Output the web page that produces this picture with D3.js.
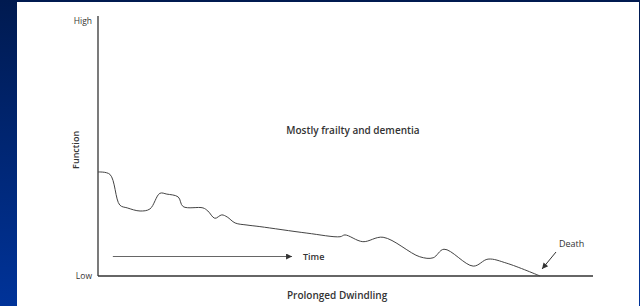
<!DOCTYPE html>
<html><head><meta charset="utf-8">
<script src="https://cdn.jsdelivr.net/npm/d3@7"></script>
<style>html,body{margin:0;padding:0;background:#001a50;overflow:hidden}</style>
</head><body>
<script>
// Trajectory data: time (0-100) vs function (0-100)
const time = [0, 2.4, 4.4, 5.9, 8.5, 10.5, 12.5, 13.9, 16.2, 17.2, 21.2, 22.2, 23.6, 25, 26.1, 27.7, 30.1, 32.7, 42.2, 48.9, 49.9, 53.5, 57.6, 65, 67.7, 69.9, 75.8, 78.8, 82.6, 89.3];
const functionLevel = [40, 39.1, 27.3, 26.2, 25, 25.8, 31.8, 31.5, 30.4, 26.7, 26.2, 25, 22.2, 23.5, 22.7, 20.4, 19.6, 19, 16.5, 15.1, 15.8, 13.2, 14.9, 7.4, 7, 10.3, 3.8, 6.5, 4.9, 0];
const yTickLabels = ["Low", "High"];
const yTickValues = [0, 100];
const title = "Mostly frailty and dementia";
const xTitle = "Prolonged Dwindling";
const yTitle = "Function";
const timeArrow = [3, 39.2]; // time arrow extent in time units
const timeArrowLevel = 7.5;
const deathTime = 89.3;

const W = 640, H = 306;
const svg = d3.select("body").append("svg").attr("width", W).attr("height", H);
const defs = svg.append("defs");
const g = defs.append("linearGradient").attr("id","bg").attr("x1",0).attr("y1",0).attr("x2",0).attr("y2",1);
g.append("stop").attr("offset","0%").attr("stop-color","#001a50");
g.append("stop").attr("offset","100%").attr("stop-color","#003399");
svg.append("rect").attr("width",W).attr("height",H).attr("fill","url(#bg)");
svg.append("rect").attr("x",17).attr("y",2).attr("width",622).attr("height",H-2).attr("fill","#ffffff");

const x = d3.scaleLinear().domain([0,100]).range([98,593]);
const y = d3.scaleLinear().domain([0,100]).range([276,16]);
const font = "'Open Sans', 'DejaVu Sans', sans-serif";
const ink = "#333";

// axes lines
svg.append("line").attr("x1",x(0)).attr("x2",x(0)).attr("y1",y(0)).attr("y2",y(100)).attr("stroke",ink).attr("stroke-width",1.3);
svg.append("line").attr("x1",x(0)).attr("x2",x(100)).attr("y1",y(0)).attr("y2",y(0)).attr("stroke",ink).attr("stroke-width",1.3);

// y tick labels
svg.selectAll("text.yt").data(yTickValues).enter().append("text")
  .attr("x",x(0)-6).attr("y",(d,i)=> i===0 ? y(d)+3 : y(d)+8).attr("text-anchor","end")
  .attr("font-family",font).attr("font-size",8.5).attr("font-weight",500).attr("fill",ink)
  .text((d,i)=>yTickLabels[i]);

// y title
svg.append("text").attr("transform",`translate(79,${y(48.5)}) rotate(-90)`)
  .attr("text-anchor","middle").attr("font-family",font).attr("font-size",9).attr("font-weight",600).attr("fill",ink).text(yTitle);

// x title
svg.append("text").attr("x",x(48.3)).attr("y",299).attr("text-anchor","middle")
  .attr("font-family",font).attr("font-size",10).attr("font-weight",600).attr("fill",ink).text(xTitle);

// chart title
svg.append("text").attr("x",x(51.5)).attr("y",134).attr("text-anchor","middle")
  .attr("font-family",font).attr("font-size",10).attr("font-weight",600).attr("fill",ink).text(title);

// curve
const pts = time.map((t,i)=>[t, functionLevel[i]]);
svg.append("path").datum(pts)
  .attr("d", d3.line().x(d=>x(d[0])).y(d=>y(d[1])).curve(d3.curveCatmullRom.alpha(0.5)))
  .attr("fill","none").attr("stroke","#444").attr("stroke-width",1);

// time arrow
defs.append("marker").attr("id","ah").attr("viewBox","0 0 10 10").attr("refX",10).attr("refY",5)
  .attr("markerWidth",8).attr("markerHeight",6).attr("markerUnits","userSpaceOnUse").attr("orient","auto")
  .append("path").attr("d","M0,0L10,5L0,10Z").attr("fill","#333");
svg.append("line").attr("x1",x(timeArrow[0])).attr("x2",x(timeArrow[1])).attr("y1",y(timeArrowLevel)).attr("y2",y(timeArrowLevel))
  .attr("stroke","#666").attr("stroke-width",1.2).attr("marker-end","url(#ah)");
svg.append("text").attr("x",303).attr("y",y(timeArrowLevel)+3)
  .attr("font-family",font).attr("font-size",9).attr("font-weight",600).attr("fill",ink).text("Time");

// death arrow
svg.append("line").attr("x1",556).attr("y1",252).attr("x2",x(deathTime)+2).attr("y2",269)
  .attr("stroke","#333").attr("stroke-width",1).attr("marker-end","url(#ah)");
svg.append("text").attr("x",559).attr("y",247)
  .attr("font-family",font).attr("font-size",9).attr("font-weight",500).attr("fill",ink).text("Death");
</script>
</body></html>
